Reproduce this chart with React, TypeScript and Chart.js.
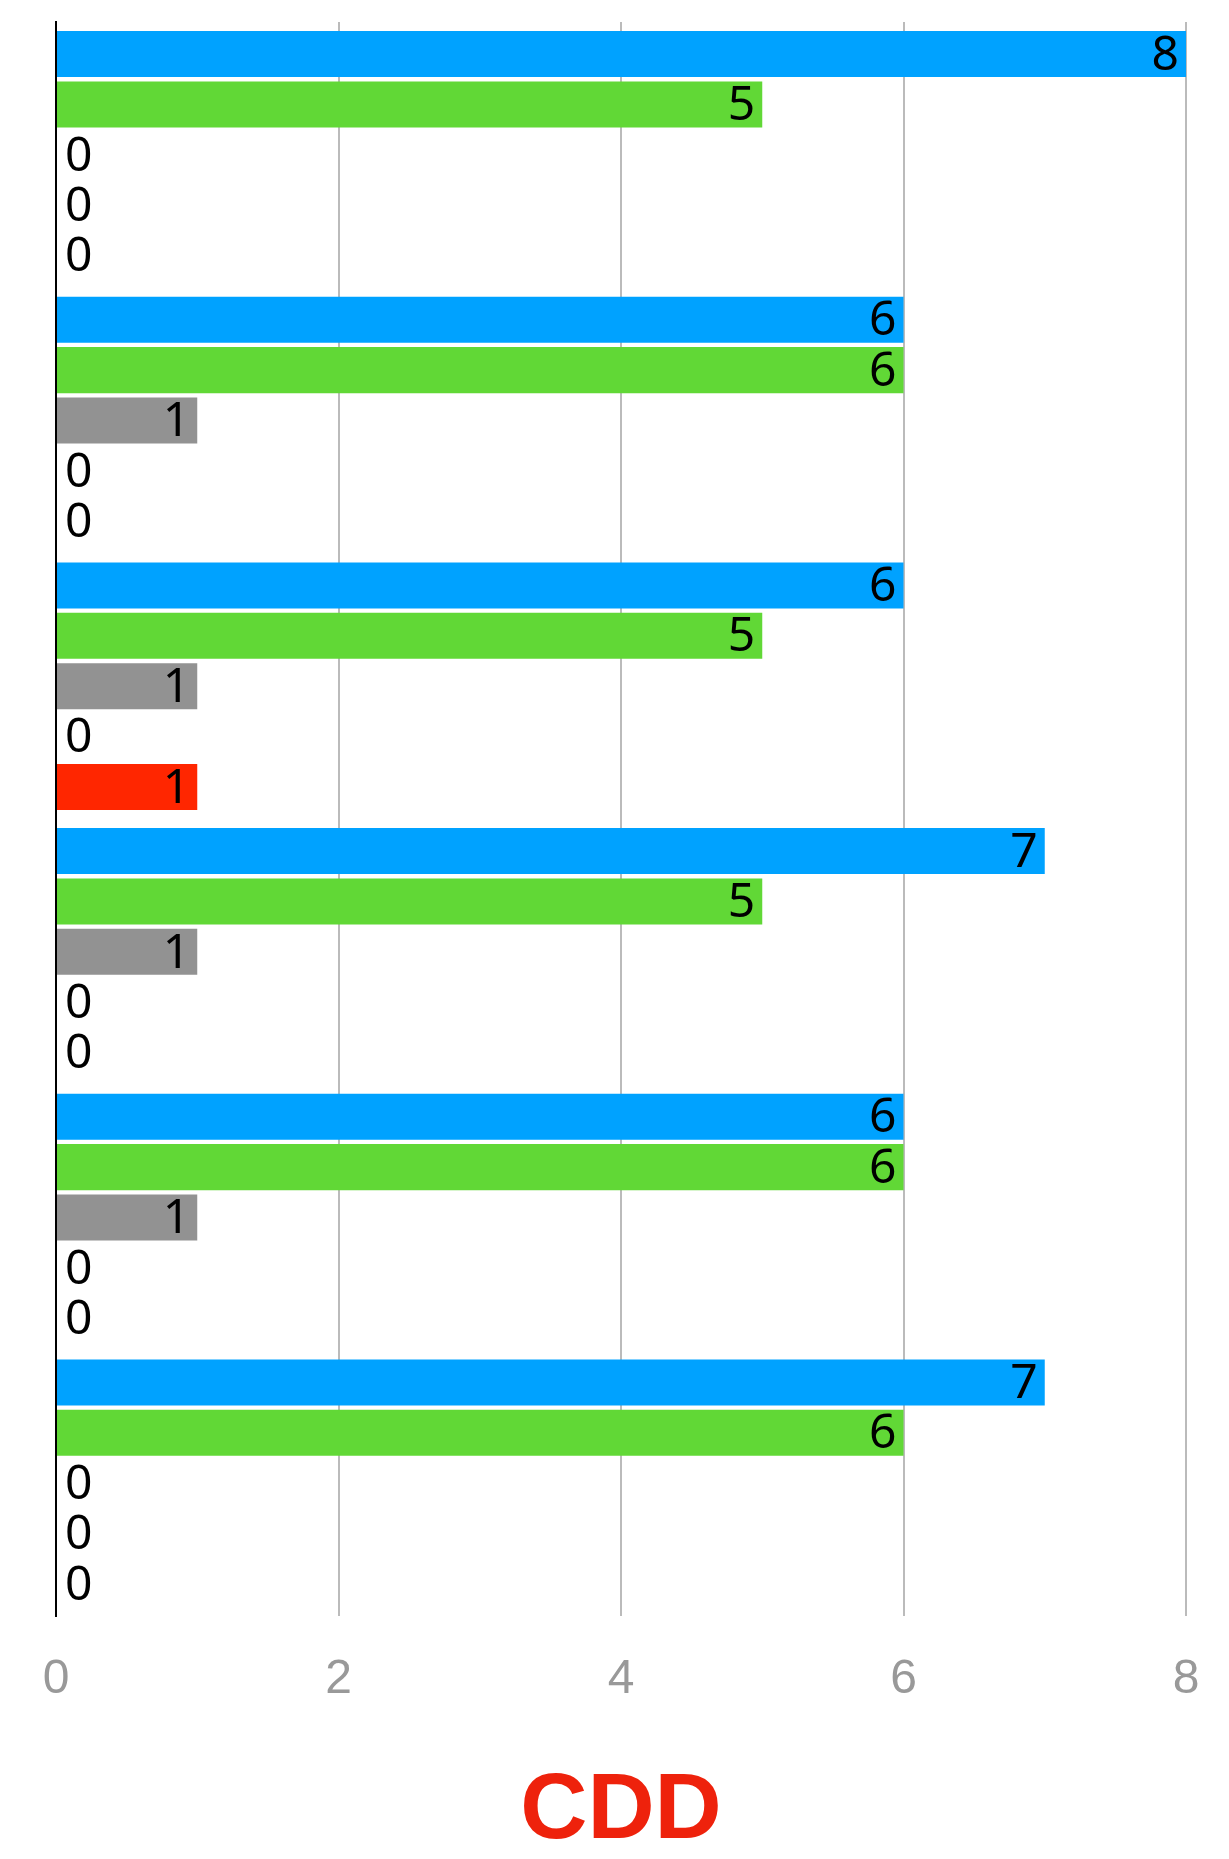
import React, { useEffect, useRef } from "react";
import { Chart, registerables } from "chart.js";

Chart.register(...registerables);

const categories = ["1", "2", "3", "4", "5", "6"];
const seriesNames = ["Series 1", "Series 2", "Series 3", "Series 4", "Series 5"];
const seriesBlue = [8, 6, 6, 7, 6, 7];
const seriesGreen = [5, 6, 5, 5, 6, 6];
const seriesGray = [0, 1, 1, 1, 1, 0];
const seriesYellow = [0, 0, 0, 0, 0, 0];
const seriesRed = [0, 0, 1, 0, 0, 0];
const xTicks = [0, 2, 4, 6, 8];
const titleText = "CDD";

const seriesColors = ["#00A2FF", "#61D836", "#929292", "#FFD932", "#FF2600"];

const barLabels = {
  id: "barLabels",
  afterDatasetsDraw(chart: any) {
    const ctx = chart.ctx;
    ctx.save();
    ctx.font = "48px 'Noto Sans'";
    ctx.fillStyle = "#000000";
    ctx.textBaseline = "middle";
    chart.data.datasets.forEach((ds: any, di: number) => {
      const meta = chart.getDatasetMeta(di);
      meta.data.forEach((el: any, i: number) => {
        const v = ds.data[i];
        const txt = String(v);
        if (v === 0) {
          ctx.textAlign = "left";
          ctx.fillText(txt, el.x + 9, el.y + 2);
        } else {
          ctx.textAlign = "right";
          ctx.fillText(txt, el.x - 7, el.y + 2);
        }
      });
    });
    ctx.restore();
  },
};

export default function App() {
  const ref = useRef<HTMLCanvasElement>(null);
  useEffect(() => {
    if (!ref.current) return;
    const dataSets = [seriesBlue, seriesGreen, seriesGray, seriesYellow, seriesRed];
    const chart = new Chart(ref.current, {
      type: "bar",
      data: {
        labels: categories,
        datasets: dataSets.map((d, i) => ({
          label: seriesNames[i],
          data: d,
          backgroundColor: seriesColors[i],
          borderWidth: 0,
          categoryPercentage: 0.948,
          barPercentage: 0.914,
        })),
      },
      options: {
        indexAxis: "y",
        responsive: false,
        animation: false,
        devicePixelRatio: 1,
        layout: { padding: { left: 56, right: 43, top: 22, bottom: 0 } },
        plugins: {
          legend: { display: false },
          tooltip: { enabled: false },
          title: {
            display: true,
            text: titleText,
            position: "bottom",
            color: "#EE220C",
            font: { family: "'Liberation Sans', Arial, sans-serif", size: 93, weight: "bold", lineHeight: 1 },
            padding: { top: 15, bottom: 0 },
          },
        },
        scales: {
          x: {
            type: "linear",
            min: xTicks[0],
            max: xTicks[xTicks.length - 1],
            afterBuildTicks: (scale: any) => {
              scale.ticks = xTicks.map((v) => ({ value: v }));
            },
            afterFit: (scale: any) => {
              scale.height = 135;
              scale.paddingLeft = 0;
              scale.paddingRight = 0;
            },
            ticks: {
              stepSize: 2,
              padding: 35,
              color: "#999999",
              font: { family: "'Liberation Sans', Arial, sans-serif", size: 48, lineHeight: 1.2 },
            },
            grid: {
              display: true,
              drawTicks: false,
              lineWidth: 2,
              color: (c: any) => (c.tick && c.tick.value === 0 ? "rgba(0,0,0,0)" : "#BBBBBB"),
            },
            border: { display: false },
          },
          y: {
            ticks: { display: false },
            grid: { display: false, drawTicks: false },
            border: { display: true, color: "#000000", width: 2 },
            afterFit: (scale: any) => {
              scale.width = 0;
              scale.paddingTop = 0;
              scale.paddingBottom = 0;
            },
          },
        },
      },
      plugins: [barLabels],
    });
    return () => chart.destroy();
  }, []);
  return (
    <div style={{ position: "absolute", left: 0, top: 0, width: 1229, height: 1859, background: "#fff" }}>
      <canvas ref={ref} width={1229} height={1859} style={{ display: "block", width: 1229, height: 1859 }} />
    </div>
  );
}
